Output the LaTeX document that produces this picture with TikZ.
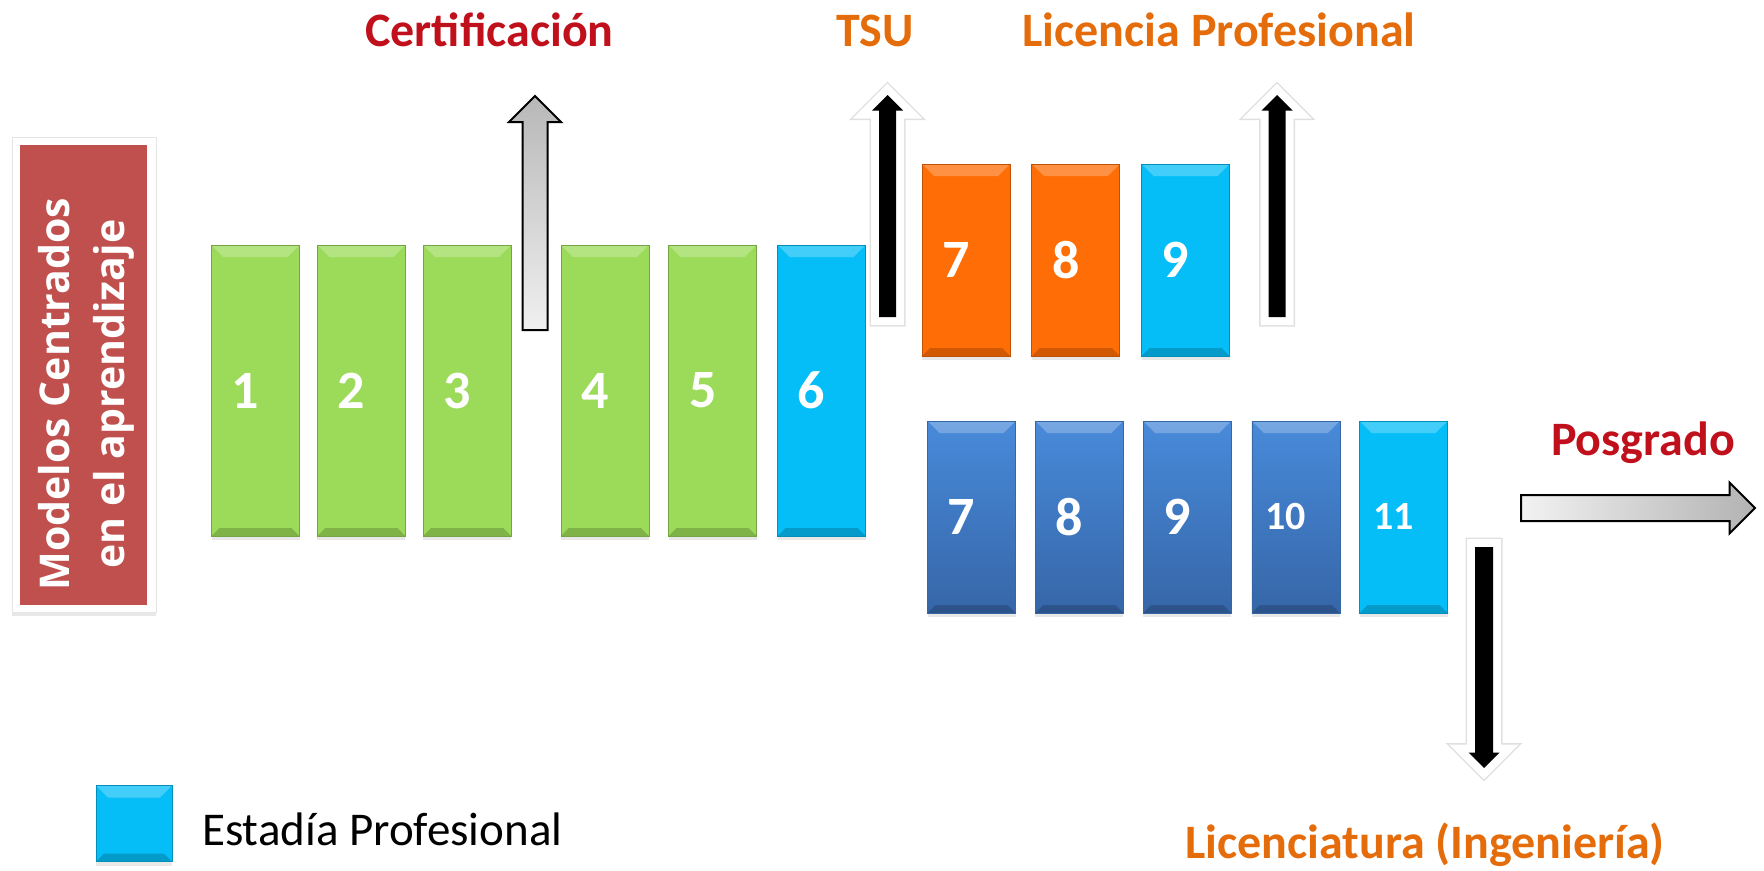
\documentclass[tikz,border=0pt]{standalone}
\usepackage{fontspec}
\setmainfont{Carlito}
\newfontfamily\modelfont{Open Sans}
\usetikzlibrary{positioning,shadows}

\definecolor{semgreen}{RGB}{155,219,89}
\definecolor{estadia}{RGB}{5,190,248}
\definecolor{semorange}{RGB}{255,109,6}
\definecolor{semblueA}{RGB}{72,138,218}
\definecolor{semblueB}{RGB}{54,102,168}
\definecolor{modelred}{RGB}{192,80,77}
\definecolor{titlered}{RGB}{192,16,28}
\definecolor{titleorange}{RGB}{228,108,10}

\tikzset{
    softshadow/.style={drop shadow={shadow xshift=0pt, shadow yshift=-4pt, opacity=.18}},
    semestre/.style={rectangle, inner sep=0pt, minimum width=88pt, fill=#1, draw=#1!75!black, line width=0.8pt,
        softshadow, % shade under the box
        path picture={
            \fill[white, opacity=.25] (path picture bounding box.north west) -- (path picture bounding box.north east)
                -- ++(-12,12) -- ([shift={(12,12)}]path picture bounding box.north west) -- cycle;
            \fill[black, opacity=.18] (path picture bounding box.south west) -- (path picture bounding box.south east)
                -- ++(-8,-8) -- ([shift={(8,-8)}]path picture bounding box.south west) -- cycle;
        },
        font=\bfseries\fontsize{54}{60}\selectfont, text=white,
        execute at begin node={\hspace*{-20pt}}},
    title/.style={inner sep=0pt, anchor=base, font=\bfseries\fontsize{48}{58}\selectfont},
    grayup/.style={draw=black, line width=2pt, line join=miter, top color=black!28, bottom color=black!6},
    grayright/.style={draw=black, line width=2pt, line join=miter, left color=black!5, right color=black!30},
    blackarr/.style={fill=black,
        preaction={draw=black!12, line width=19pt, line join=miter},
        preaction={draw=white, line width=16pt, line join=miter}},
}

% block arrow: style, base, angle, length, half shaft, half head
\newcommand{\bigarrow}[6]{%
    \path[#1, shift={(#2)}, rotate=#3]
        (0,-#5) -- ({#4-#6},-#5) -- ({#4-#6},-#6) -- (#4,0) -- ({#4-#6},#6) -- ({#4-#6},#5) -- (0,#5) -- cycle;}

\begin{document}
\begin{tikzpicture}[x=1pt, y=-1pt, node distance=17pt]
    \useasboundingbox (0,0) rectangle (1764,870);

    % left box
    \node[fill=white, draw=black!10, line width=1pt, minimum width=144pt, minimum height=475pt, inner sep=0pt,
        softshadow] (frame) at (84,374.5) {};
    \node[fill=modelred, minimum width=127pt, minimum height=460pt, inner sep=0pt] (model) at (83.5,375) {};
    \node[rotate=90, align=center, text=white, inner sep=0pt,
        font=\modelfont\bfseries\fontsize{41}{55}\selectfont] (modeltext) at (86,394)
        {Modelos Centrados\\en el aprendizaje};

    % TSU
    \node[semestre=semgreen, minimum height=291pt] (g1) at (255.5,390.5) {1};
    \node[semestre=semgreen, minimum height=291pt, right=of g1] (g2) {2};
    \node[semestre=semgreen, minimum height=291pt, right=of g2] (g3) {3};
    \node[semestre=semgreen, minimum height=291pt, right=49pt of g3] (g4) {4};
    \node[semestre=semgreen, minimum height=291pt, right=19pt of g4] (g5) {5};
    \node[semestre=estadia, minimum height=291pt, right=20pt of g5] (g6) {6};

    % licencia profesional
    \node[semestre=semorange, minimum height=192pt] (o7) at (966,260) {7};
    \node[semestre=semorange, minimum height=192pt, right=21pt of o7] (o8) {8};
    \node[semestre=estadia, minimum height=192pt, right=21pt of o8] (o9) {9};

    % licenciatura
    \node[semestre=semblueA, top color=semblueA, bottom color=semblueB, minimum height=192pt] (b7) at (971.5,517) {7};
    \node[semestre=semblueA, top color=semblueA, bottom color=semblueB, minimum height=192pt, right=19pt of b7] (b8) {8};
    \node[semestre=semblueA, top color=semblueA, bottom color=semblueB, minimum height=192pt, right=19pt of b8] (b9) {9};
    \node[semestre=semblueA, top color=semblueA, bottom color=semblueB, minimum height=192pt, right=20pt of b9,
        font=\bfseries\fontsize{40}{48}\selectfont] (b10) {10};
    \node[semestre=estadia, minimum height=192pt, right=19pt of b10,
        font=\bfseries\fontsize{40}{48}\selectfont] (b11) {11};

    % exits
    \node[title, text=titlered] (cert) at (489.5,46) {Certificación};
    \node[title, text=titleorange] (tsu) at (875,46) {TSU};
    \node[title, text=titleorange] (lp) at (1219,46) {Licencia Profesional};
    \node[title, text=titlered] (posg) at (1643,455) {Posgrado};
    \node[title, text=titleorange] (lic) at (1425,858) {Licenciatura (Ingeniería)};

    \coordinate (cert base) at (535,330);
    \coordinate (tsu base) at (887.5,317);
    \coordinate (lp base) at (1277,317);
    \coordinate (lic base) at (1484,547);
    \coordinate (posg base) at (1521,508);

    \bigarrow{grayup}{cert base}{90}{234}{12.5}{26}
    \bigarrow{blackarr}{tsu base}{90}{222}{8.5}{15.5}
    \bigarrow{blackarr}{lp base}{90}{222}{8.5}{15.5}
    \bigarrow{blackarr}{lic base}{-90}{221}{9}{15.5}
    \bigarrow{grayright}{posg base}{0}{234}{13}{25.5}

    % legend
    \node[semestre=estadia, minimum width=76pt, minimum height=76pt] (leg) at (134,823.5) {};
    \node[anchor=base west, inner sep=0pt, font=\fontsize{47}{56}\selectfont] (legtext) at (202,845) {Estadía Profesional};
\end{tikzpicture}
\end{document}
